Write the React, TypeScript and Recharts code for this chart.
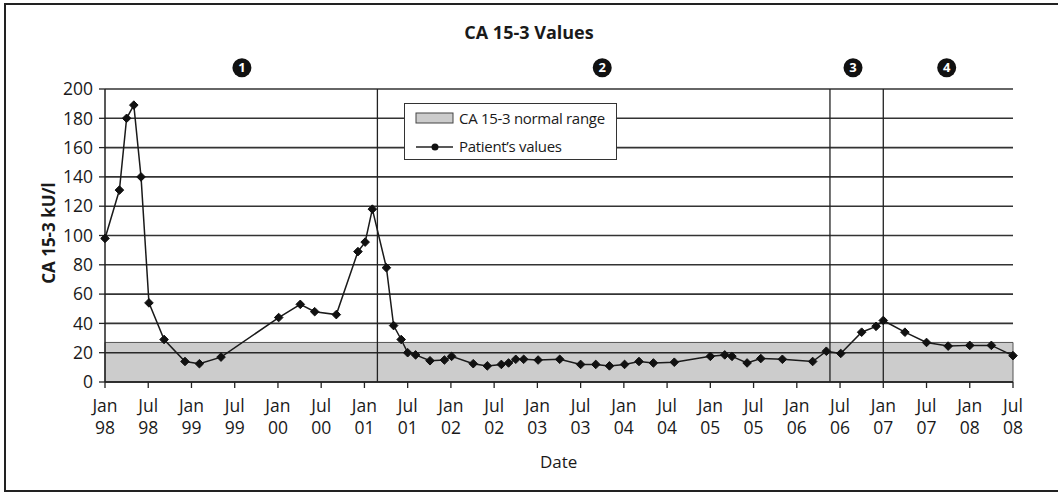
import React from 'react';
import {
  ComposedChart,
  Line,
  XAxis,
  YAxis,
  CartesianGrid,
  ReferenceArea,
  ReferenceLine,
  ReferenceDot,
  Legend,
} from 'recharts';

// months since Jan 1998
const MONTHS = [
  0, 2, 3, 4, 5, 6.1, 8.2, 11.1, 13.1, 16.1,
  24.1, 27.1, 29.1, 32.1, 35.1, 36.1, 37.1,
  39.05, 40.05, 41.1, 42, 43.1, 45.1, 47.1, 48.1,
  51.1, 53.05, 55, 56, 57, 58.1, 60.1, 63.1,
  66, 68.1, 70, 72.1, 74.1, 76.1, 79,
  84, 86, 87, 89.1, 91, 94, 98.2,
  100.1, 102.1, 105, 107, 108, 111, 114, 117, 120, 123, 126,
];
const VALUES = [
  98, 131, 180, 189, 140, 54, 29, 14, 12.5, 17,
  44, 53, 48, 46, 89, 95.5, 118,
  78, 38.5, 29, 20, 18.5, 14.5, 15, 17.5,
  12.5, 11, 12, 13, 15.5, 15.5, 15, 15.5,
  12, 12, 11, 12, 14, 13, 13.5,
  17.5, 18.5, 17.5, 13, 16, 15.5, 14,
  21, 19.5, 34, 38, 42, 34, 27, 24.5, 25, 25, 18,
];

const X_TICKS = [0, 6, 12, 18, 24, 30, 36, 42, 48, 54, 60, 66, 72, 78, 84, 90, 96, 102, 108, 114, 120, 126];
const X_TICK_LABELS = [
  'Jan 98', 'Jul 98', 'Jan 99', 'Jul 99', 'Jan 00', 'Jul 00', 'Jan 01', 'Jul 01',
  'Jan 02', 'Jul 02', 'Jan 03', 'Jul 03', 'Jan 04', 'Jul 04', 'Jan 05', 'Jul 05',
  'Jan 06', 'Jul 06', 'Jan 07', 'Jul 07', 'Jan 08', 'Jul 08',
];
const Y_TICKS = [0, 20, 40, 60, 80, 100, 120, 140, 160, 180, 200];

const NORMAL_RANGE_UPPER = 27;
const PHASE_BOUNDARIES = [37.8, 100.6, 108];
const PHASE_LABELS = ['1', '2', '3', '4'];
const PHASE_X = [19, 69, 103.8, 116.8];
const PHASE_Y = 214.5;

const TITLE = 'CA 15-3 Values';
const Y_LABEL = 'CA 15-3 kU/l';
const X_LABEL = 'Date';
const LEGEND_RANGE = 'CA 15-3 normal range';
const LEGEND_LINE = 'Patient\u2019s values';

const FONT = '"Open Sans", "Noto Sans", sans-serif';
const INK = '#1a1a1a';

const data = MONTHS.map((m, i) => ({ month: m, value: VALUES[i] }));

const XTick = (props: any) => {
  const { x, y, payload } = props;
  const idx = X_TICKS.indexOf(payload.value);
  const [a, b] = (X_TICK_LABELS[idx] || '').split(' ');
  return (
    <text x={x} y={y} textAnchor="middle" fontSize={17.5} fill={INK} fontFamily={FONT}>
      <tspan x={x} dy={22}>{a}</tspan>
      <tspan x={x} dy={22}>{b}</tspan>
    </text>
  );
};

const Diamond = (props: any) => {
  const { cx, cy } = props;
  if (cx == null || cy == null) return null;
  const s = 4.3;
  return (
    <polygon
      points={`${cx},${cy - s} ${cx + s},${cy} ${cx},${cy + s} ${cx - s},${cy}`}
      fill="#111"
      stroke="#111"
      strokeWidth={1}
    />
  );
};

const phaseShape = (label: string) => (props: any) => {
  const { cx, cy } = props;
  return (
    <g>
      <circle cx={cx} cy={cy} r={9.5} fill="#111" />
      <text
        x={cx}
        y={cy + 4.5}
        textAnchor="middle"
        fontSize={13}
        fontWeight="bold"
        fill="#fff"
        fontFamily={FONT}
      >
        {label}
      </text>
    </g>
  );
};

const LegendContent = () => (
  <div
    style={{
      border: '1.5px solid #333',
      background: '#fff',
      width: 213,
      height: 57,
      boxSizing: 'border-box',
      fontFamily: FONT,
      fontSize: 15,
      letterSpacing: -0.3,
      color: INK,
      position: 'relative',
    }}
  >
    <svg width={40} height={52} style={{ position: 'absolute', left: 10, top: 2 }}>
      <rect x={1} y={7} width={37} height={10} fill="#cccccc" stroke="#444" strokeWidth={1} />
      <line x1={1} y1={41} x2={38} y2={41} stroke="#222" strokeWidth={1.5} />
      <circle cx={20} cy={41} r={3.5} fill="#111" />
    </svg>
    <div style={{ position: 'absolute', left: 54, top: 4, whiteSpace: 'nowrap', lineHeight: '20px' }}>
      {LEGEND_RANGE}
    </div>
    <div style={{ position: 'absolute', left: 54, top: 32, whiteSpace: 'nowrap', lineHeight: '20px' }}>
      {LEGEND_LINE}
    </div>
  </div>
);

export default function App() {
  return (
    <div
      style={{
        position: 'absolute',
        left: 0,
        top: 0,
        width: 1058,
        height: 493,
        overflow: 'hidden',
        background: '#fff',
        fontFamily: FONT,
      }}
    >
      <div
        style={{
          position: 'absolute',
          left: 4,
          top: 3,
          width: 1080,
          height: 485,
          border: '2px solid #222',
        }}
      />
      <div
        style={{
          position: 'absolute',
          left: 0,
          width: 1058,
          top: 20,
          textAlign: 'center',
          fontSize: 18,
          fontWeight: 'bold',
          color: INK,
          lineHeight: '24px',
        }}
      >
        {TITLE}
      </div>
      <div
        style={{
          position: 'absolute',
          left: 49,
          top: 233,
          transform: 'translate(-50%, -50%) rotate(-90deg)',
          fontSize: 17,
          fontWeight: 'bold',
          color: INK,
          whiteSpace: 'nowrap',
          lineHeight: '22px',
        }}
      >
        {Y_LABEL}
      </div>
      <div
        style={{
          position: 'absolute',
          left: 458.7,
          width: 200,
          top: 450,
          textAlign: 'center',
          fontSize: 17,
          color: INK,
          lineHeight: '24px',
        }}
      >
        {X_LABEL}
      </div>
      <div style={{ position: 'absolute', left: 0, top: 0 }}>
        <ComposedChart
          width={1058}
          height={493}
          data={data}
          margin={{ top: 89, right: 45, bottom: 0, left: 0 }}
        >
          <CartesianGrid horizontal vertical={false} stroke="#333" strokeWidth={1.6} />
          <ReferenceArea
            x1={0}
            x2={126}
            y1={0}
            y2={NORMAL_RANGE_UPPER}
            fill="#000"
            fillOpacity={0.2}
            stroke="#555"
            strokeWidth={1}
            strokeOpacity={1}
            ifOverflow="visible"
          />
          {PHASE_BOUNDARIES.map((b) => (
            <ReferenceLine key={b} x={b} stroke="#222" strokeWidth={1.3} />
          ))}
          <XAxis
            type="number"
            dataKey="month"
            domain={[0, 126]}
            ticks={X_TICKS}
            interval={0}
            height={111}
            tickSize={6}
            tickLine={{ stroke: '#222', strokeWidth: 1.3 }}
            axisLine={{ stroke: '#222', strokeWidth: 1.5 }}
            tick={<XTick />}
          />
          <YAxis
            type="number"
            domain={[0, 200]}
            ticks={Y_TICKS}
            interval={0}
            width={105}
            tickSize={6}
            tickMargin={6}
            tickLine={{ stroke: '#222', strokeWidth: 1.3 }}
            axisLine={{ stroke: '#222', strokeWidth: 1.5 }}
            tick={{ fontSize: 17.5, fill: INK, fontFamily: FONT }}
          />
          <Legend
            layout="vertical"
            align="center"
            verticalAlign="middle"
            content={<LegendContent />}
            wrapperStyle={{ left: 404, top: 103, width: 213, height: 57 }}
          />
          <Line
            type="linear"
            dataKey="value"
            stroke="#1a1a1a"
            strokeWidth={1.5}
            dot={<Diamond />}
            activeDot={false}
            isAnimationActive={false}
          />
          {PHASE_LABELS.map((l, i) => (
            <ReferenceDot
              key={l}
              x={PHASE_X[i]}
              y={PHASE_Y}
              r={9.5}
              ifOverflow="visible"
              shape={phaseShape(l)}
            />
          ))}
        </ComposedChart>
      </div>
    </div>
  );
}
